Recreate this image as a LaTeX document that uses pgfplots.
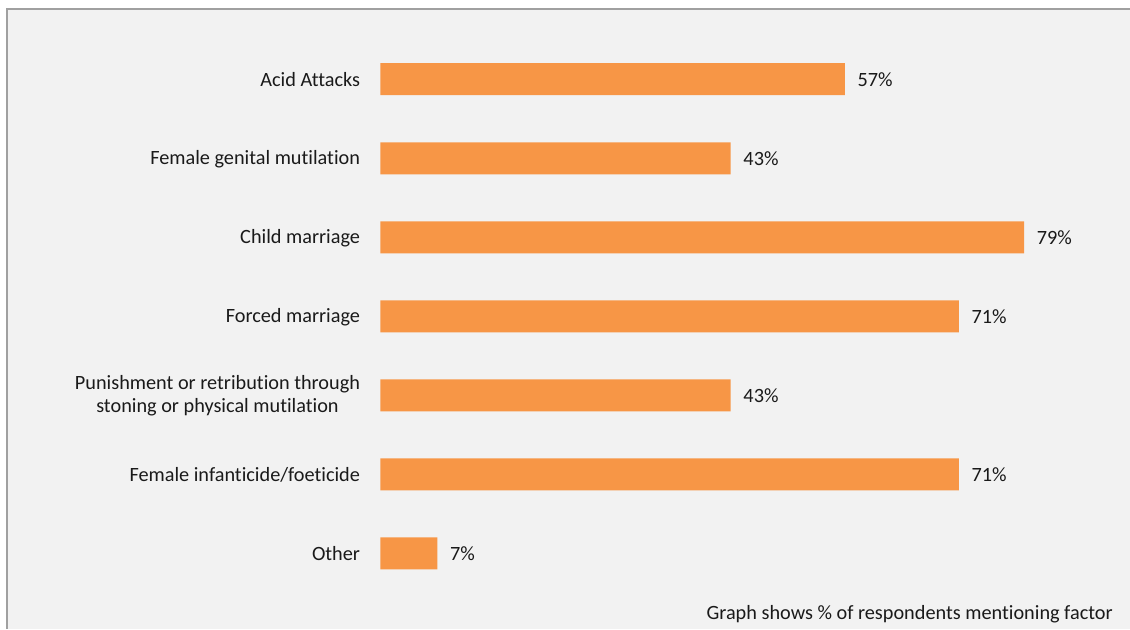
\documentclass[border=0pt]{standalone}
\usepackage{fontspec}
\setmainfont[Ligatures=NoCommon]{Carlito}
\usepackage{pgfplots}
\pgfplotsset{compat=1.18}
\definecolor{barorange}{HTML}{F79646}
\definecolor{bggray}{HTML}{F2F2F2}
\definecolor{framegray}{HTML}{A0A0A0}
\definecolor{txt}{HTML}{1A1A1A}
\begin{document}
\begin{tikzpicture}[x=0.75pt,y=0.75pt,font=\fontsize{15.2}{17.3}\selectfont]
\useasboundingbox (0,0) rectangle (1130,629);
\fill[white] (0,0) rectangle (1130,629);
\fill[bggray] (7,0) rectangle (1130,620);
\draw[framegray, line width=1.5pt] (7,0) -- (7,620) -- (1130,620);
\begin{axis}[
  at={(380.3*0.75pt,36.2*0.75pt)}, anchor=south west,
  scale only axis,
  width=482.8pt, height=414.8pt,
  xbar, bar width=0.405,
  xmin=0, xmax=79, ymin=-0.5, ymax=6.5,
  axis line style={draw=none},
  xtick=\empty,
  ytick={0,1,2,3,4,5,6},
  yticklabels={Other,Female infanticide/foeticide,{Punishment or retribution through\\stoning or physical mutilation},Forced marriage,Child marriage,Female genital mutilation,Acid Attacks},
  major tick length=0pt,
  /pgf/number format/assume math mode=true,
  yticklabel style={align=center, inner sep=0pt, xshift=-15pt, yshift=-0.5pt, text=txt, font=\fontsize{15.2}{17.3}\selectfont},
  nodes near coords={\pgfmathprintnumber{\pgfplotspointmeta}\%},
  every node near coord/.append style={anchor=west, inner sep=0pt, xshift=9.4pt, font=\fontsize{15.2}{17.3}\selectfont, text=txt},
  clip=false,
]
\addplot[fill=barorange, draw=none] coordinates {(7,0) (71,1) (43,2) (71,3) (79,4) (43,5) (57,6)};
\end{axis}
\node[anchor=base east, inner sep=0pt, text=txt] at (1113,9.5) {Graph shows \% of respondents mentioning factor};
\end{tikzpicture}
\end{document}
